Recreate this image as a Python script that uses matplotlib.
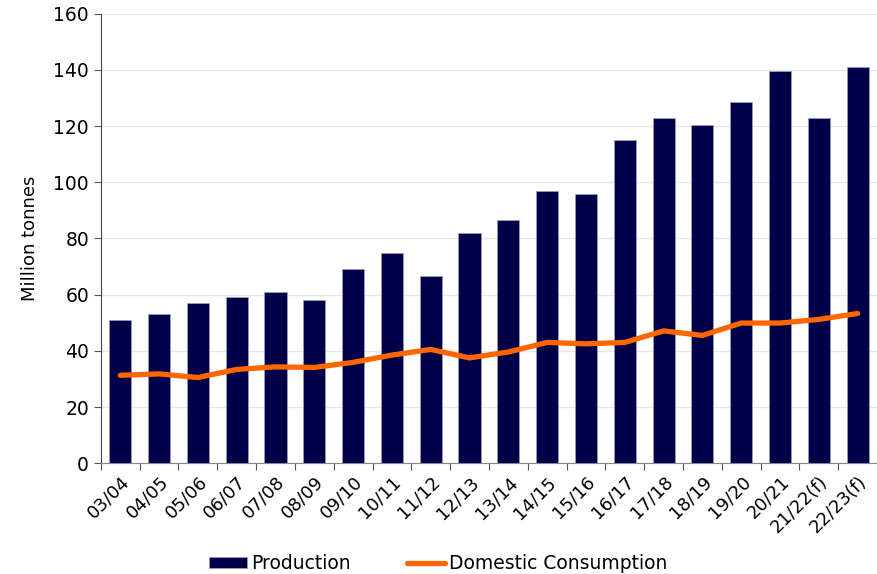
import numpy as np
import matplotlib.pyplot as plt

seasons = ["03/04", "04/05", "05/06", "06/07", "07/08", "08/09", "09/10", "10/11",
           "11/12", "12/13", "13/14", "14/15", "15/16", "16/17", "17/18", "18/19",
           "19/20", "20/21", "21/22(f)", "22/23(f)"]
production = [51, 53, 57, 59, 61, 58, 69, 75, 66.5, 82, 86.5, 97, 96, 115,
              123, 120.5, 128.5, 139.5, 123, 141]
consumption = [31.3, 31.8, 30.5, 33.4, 34.3, 34.1, 35.9, 38.5, 40.5, 37.5,
               39.6, 43.0, 42.5, 43.0, 47.1, 45.5, 49.9, 49.9, 51.2, 53.3]

navy = "#00004a"
orange = "#ff6600"

fig = plt.figure(figsize=(8.77, 5.74), dpi=100)
ax = fig.add_axes([0.115, 0.193, 0.885, 0.783])

x = np.arange(len(seasons))
bars = ax.bar(x, production, width=0.57, color=navy, edgecolor="#9a9ab8",
              linewidth=0.6, label="Production", zorder=2)
line, = ax.plot(x, consumption, color=orange, linewidth=3.8, solid_joinstyle="round",
                solid_capstyle="round", label="Domestic Consumption", zorder=3)

ax.set_xlim(-0.5, len(seasons) - 0.5)
ax.set_ylim(0, 160)
ax.set_yticks(range(0, 161, 20))
ax.yaxis.grid(True, color="#e6e6e6", linewidth=1.0, zorder=0)
ax.set_axisbelow(True)

# ticks sit between categories, labels under each bar
ax.set_xticks(np.arange(len(seasons) + 1) - 0.5)
ax.set_xticklabels([])
ax.set_xticks(x, minor=True)
ax.set_xticklabels(seasons, minor=True, rotation=45, ha="right", va="top",
                   rotation_mode="anchor", fontsize=13)
ax.tick_params(axis="x", which="minor", length=0, pad=7)
ax.tick_params(axis="x", which="major", length=5, color="#555555")
ax.tick_params(axis="y", length=5, color="#555555", labelsize=13.5)

for side in ("top", "right"):
    ax.spines[side].set_visible(False)
ax.spines["left"].set_color("#444444")
ax.spines["bottom"].set_color("#888888")

ax.set_ylabel("Million tonnes", fontsize=13, labelpad=10)

fig.legend([bars, line], ["Production", "Domestic Consumption"],
           loc="center", bbox_to_anchor=(0.5, 0.018), ncol=2, frameon=False,
           fontsize=13.5, handlelength=2.0, handleheight=0.45, columnspacing=3.0,
           handletextpad=0.25)

fig.savefig("out.png", dpi=100)
